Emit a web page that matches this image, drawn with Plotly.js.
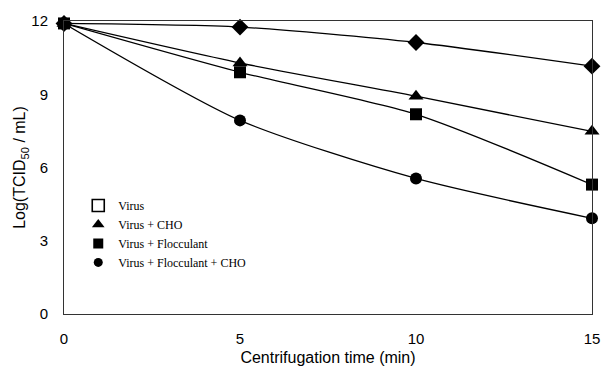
<!DOCTYPE html>
<html><head><meta charset="utf-8">
<script src="https://cdn.plot.ly/plotly-3.0.1.min.js"></script>
<style>html,body{margin:0;padding:0;background:#fff}</style>
</head><body>
<div id="chart" style="width:602px;height:374px"></div>
<script>
const times = [0, 5, 10, 15];
const virus = [11.9, 11.75, 11.12, 10.15];
const virusCHO = [11.9, 10.28, 8.92, 7.48];
const virusFloc = [11.9, 9.9, 8.18, 5.3];
const virusFlocCHO = [11.9, 7.93, 5.55, 3.92];
const legendNames = ['Virus', 'Virus + CHO', 'Virus + Flocculant', 'Virus + Flocculant + CHO'];
const yTicks = [0, 3, 6, 9, 12];
const xTicks = [0, 5, 10, 15];

const line = {color: '#000', width: 1.3, shape: 'spline', smoothing: 0.7};
const traces = [
  {x: times, y: virus, mode: 'lines+markers', line: line, showlegend: false,
   marker: {symbol: 'diamond', size: 13, color: '#000'}, cliponaxis: false},
  {x: times, y: virusCHO, mode: 'lines+markers', line: line, showlegend: false,
   marker: {symbol: 'triangle-up', size: 13, color: '#000'}, cliponaxis: false},
  {x: times, y: virusFloc, mode: 'lines+markers', line: line, showlegend: false,
   marker: {symbol: 'square', size: 12, color: '#000'}, cliponaxis: false},
  {x: times, y: virusFlocCHO, mode: 'lines+markers', line: line, showlegend: false,
   marker: {symbol: 'circle', size: 12, color: '#000'}, cliponaxis: false},
  // legend entries (markers only, as in the original key)
  {x: [null], y: [null], mode: 'markers', name: legendNames[0],
   marker: {symbol: 'square-open', size: 12, color: '#000', line: {width: 1.6, color: '#000'}}},
  {x: [null], y: [null], mode: 'markers', name: legendNames[1],
   marker: {symbol: 'triangle-up', size: 11, color: '#000'}},
  {x: [null], y: [null], mode: 'markers', name: legendNames[2],
   marker: {symbol: 'square', size: 10, color: '#000'}},
  {x: [null], y: [null], mode: 'markers', name: legendNames[3],
   marker: {symbol: 'circle', size: 9, color: '#000'}}
];

const layout = {
  width: 602, height: 374,
  margin: {l: 64, r: 10, t: 21, b: 60},
  paper_bgcolor: '#fff', plot_bgcolor: '#fff',
  font: {family: 'Liberation Sans, Arial, sans-serif', color: '#000', size: 15},
  xaxis: {range: [0, 15], tickvals: xTicks, showgrid: false, zeroline: false,
          showline: true, mirror: true, linecolor: '#333', linewidth: 1,
          ticks: '', ticklabelstandoff: 11, tickfont: {size: 15},
          title: {text: 'Centrifugation time (min)', font: {size: 16}, standoff: 5}},
  yaxis: {range: [0, 12], tickvals: yTicks, showgrid: false, zeroline: false,
          showline: true, mirror: true, linecolor: '#333', linewidth: 1,
          ticks: '', ticklabelstandoff: 12, tickfont: {size: 15},
          title: {text: 'Log(TCID<sub>50</sub> / mL)', font: {size: 16}, standoff: 1}},
  legend: {x: 0.027, y: 0.42, xanchor: 'left', yanchor: 'top',
           bgcolor: 'rgba(0,0,0,0)', borderwidth: 0,
           font: {family: 'Liberation Serif, Times New Roman, serif', size: 12, color: '#000'},
           itemwidth: 30, tracegroupgap: 0}
};

Plotly.newPlot('chart', traces, layout, {displayModeBar: false, staticPlot: true});
</script>
</body></html>
